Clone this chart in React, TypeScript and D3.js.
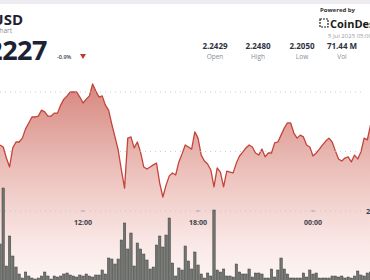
import React from "react";
import * as d3 from "d3";

// ---- data ----
const startTime = new Date(2025, 6, 4, 7, 40);
const endTime = new Date(2025, 6, 5, 3, 0);
const stepMinutes = 10;

const prices: number[] = [
  2.2222, 2.2215, 2.2178, 2.2148, 2.2212, 2.2232, 2.2232, 2.2245, 2.2276, 2.2296,
  2.2316, 2.2316, 2.2319, 2.2339, 2.2333, 2.2319, 2.2319, 2.2329, 2.2329, 2.2356,
  2.2376, 2.2387, 2.24, 2.24, 2.24, 2.2383, 2.2363, 2.2376, 2.2387, 2.2427,
  2.2403, 2.2383, 2.2387, 2.2356, 2.2339, 2.2292, 2.2249, 2.2205, 2.2138, 2.2077,
  2.2245, 2.2249, 2.2212, 2.2232, 2.2198, 2.2148, 2.2141, 2.2148, 2.2155, 2.2161,
  2.2094, 2.2047, 2.2087, 2.2118, 2.2128, 2.2121, 2.2165, 2.2192, 2.2222, 2.2215,
  2.2208, 2.2266, 2.2245, 2.2188, 2.2168, 2.2158, 2.2138, 2.2081, 2.2145, 2.2131,
  2.2081, 2.2134, 2.2131, 2.2128, 2.2161, 2.2185, 2.2198, 2.2212, 2.2222, 2.2215,
  2.2195, 2.2188, 2.2208, 2.2182, 2.2195, 2.2195, 2.2229, 2.2232, 2.2255, 2.2279,
  2.2296, 2.2296, 2.2262, 2.2245, 2.2255, 2.2249, 2.2222, 2.2215, 2.2185, 2.2195,
  2.2208, 2.2222, 2.2235, 2.2245, 2.2232, 2.2202, 2.2175, 2.2168, 2.2178, 2.2182,
  2.2165, 2.2188, 2.2175, 2.2198, 2.2245, 2.2239, 2.2289,
];

const volumes: number[] = [
  37, 93, 15, 45, 25, 14, 7, 3, 9, 5,
  3, 2, 3, 5, 9, 5, 2, 5, 4, 5,
  7, 8, 6, 5, 4, 6, 5, 7, 5, 4,
  6, 6, 11, 7, 23, 22, 17, 22, 41, 58,
  32, 48, 15, 38, 32, 27, 21, 12, 14, 36,
  45, 34, 46, 63, 18, 5, 13, 11, 35, 20,
  12, 29, 16, 7, 3, 8, 5, 71, 11, 9,
  12, 5, 5, 4, 17, 9, 7, 7, 12, 4,
  8, 8, 7, 3, 3, 12, 4, 11, 23, 12,
  7, 3, 3, 3, 3, 8, 4, 11, 7, 8,
  3, 3, 3, 3, 5, 5, 4, 5, 3, 4,
  3, 5, 10, 6, 5, 8, 9,
];

const gridPrices: number[] = [2.2, 2.22, 2.24];
const axisLabels: string[] = ["2.20"];

const statValues: string[] = ["2.2429", "2.2480", "2.2050", "71.44 M", "1"];
const statLabels: string[] = ["Open", "High", "Low", "Vol", ""];

const pairLabel = "XRP/USD";
const subLabel = "Price Chart";
const lastPrice = "2.2227";
const changeLabel = "-0.9%";
const dateLabel = "5 Jul 2025 05:00";

const times: Date[] = prices.map(
  (_, i) => new Date(startTime.getTime() + i * stepMinutes * 60000)
);

export default function App() {
  const W = 370;
  const H = 280;

  const x = d3.scaleTime().domain([startTime, endTime]).range([0, 370.5]);
  const y = d3.scaleLinear().domain([2.2, 2.24]).range([211, 92]);
  const yv = d3.scaleLinear().domain([0, 100]).range([281, 181]);

  const line = d3
    .line<number>()
    .x((_, i) => x(times[i]))
    .y((d) => y(d));
  const area = d3
    .area<number>()
    .x((_, i) => x(times[i]))
    .y0(290)
    .y1((d) => y(d));

  const ticks = x.ticks(d3.timeHour.every(6) as any);
  const fmt = d3.timeFormat("%H:%M");

  const statX = [215, 258, 302, 342, 384];
  const font = "'Open Sans', 'Noto Sans', sans-serif";

  return (
    <svg
      width={W}
      height={H}
      style={{ position: "fixed", left: 0, top: 0, background: "#fff" }}
      fontFamily={font}
    >
      <defs>
        <linearGradient id="ag" gradientUnits="userSpaceOnUse" x1="0" y1="80" x2="0" y2="280">
          <stop offset="0" stopColor="#d5857c" />
          <stop offset="0.45" stopColor="#ecc0bb" />
          <stop offset="0.8" stopColor="#f9e6e4" />
          <stop offset="1" stopColor="#fdf5f4" />
        </linearGradient>
      </defs>
      <rect x={0} y={0} width={W} height={H} fill="#fff" />
      <rect x={0} y={0} width={W} height={4} fill="#eeecf1" />

      {/* header */}
      <text x={23} y={25} textAnchor="end" fontSize={15} fontWeight={700} fill="#1c2134">
        {pairLabel}
      </text>
      <text x={12} y={33} textAnchor="end" fontSize={6.5} fill="#8a8d96">
        {subLabel}
      </text>
      <text x={47} y={60} textAnchor="end" fontSize={27} fontWeight={700} fill="#1c2134" letterSpacing={-0.5}>
        {lastPrice}
      </text>
      <text x={57} y={59} fontSize={5.5} fontWeight={600} fill="#3a3f4c">
        {changeLabel}
      </text>
      <path d="M80,54 L86,54 L83,59 Z" fill="#c0392b" />

      {statValues.map((v, i) => (
        <g key={i}>
          <text x={statX[i]} y={49} textAnchor="middle" fontSize={8} fontWeight={700} fill="#2d3240">
            {v}
          </text>
          <text x={statX[i]} y={59} textAnchor="middle" fontSize={6.5} fill="#8a8d96">
            {statLabels[i]}
          </text>
        </g>
      ))}

      <text x={320} y={12} fontSize={6} fontWeight={700} fill="#333">
        Powered by
      </text>
      <g>
        <rect x={320} y={19} width={8} height={8} fill="none" stroke="#222" strokeWidth={1.2} strokeDasharray="2 1" />
        <text x={330} y={28} fontSize={11} fontWeight={700} fill="#1a1a1a">
          CoinDesk
        </text>
      </g>
      <text x={328} y={38} fontSize={6} fill="#9a9ca3">
        {dateLabel}
      </text>

      {/* area and line */}
      <path d={area(prices) || ""} fill="url(#ag)" />
      <path d={line(prices) || ""} fill="none" stroke="#c4443a" strokeWidth={1.3} strokeLinejoin="round" />

      {/* grid */}
      {gridPrices.map((g, i) => (
        <line
          key={i}
          x1={0}
          x2={365}
          y1={y(g)}
          y2={y(g)}
          stroke="#c3c3c7"
          strokeWidth={0.8}
          strokeDasharray="1 4"
        />
      ))}
      {ticks.map((t, i) => (
        <line key={i} x1={x(t) - 1.5} x2={x(t) + 1.5} y1={y(2.2)} y2={y(2.2)} stroke="#8a8a90" strokeWidth={0.8} />
      ))}
      {ticks.map((t, i) => (
        <text key={i} x={x(t)} y={225} textAnchor="middle" fontSize={7} fontWeight={700} fill="#3a3f4c">
          {fmt(t)}
        </text>
      ))}
      {axisLabels.map((l, i) => (
        <text key={i} x={366} y={y(gridPrices[i]) + 3} fontSize={7.5} fontWeight={700} fill="#3a3f4c">
          {l}
        </text>
      ))}

      {/* volume */}
      {volumes.map((v, i) => (
        <rect
          key={i}
          x={x(times[i]) - 1.2}
          y={yv(v)}
          width={2.4}
          height={yv(0) - yv(v)}
          fill="#717471"
          stroke="#3f423f"
          strokeWidth={0.5}
        />
      ))}
    </svg>
  );
}
